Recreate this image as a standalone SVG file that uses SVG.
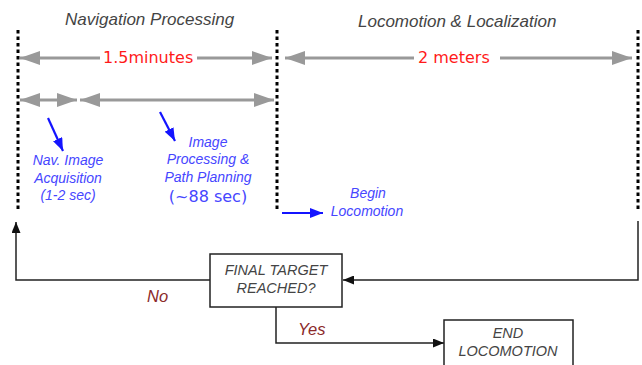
<svg xmlns="http://www.w3.org/2000/svg" width="642" height="365" viewBox="0 0 642 365">
  <style>
    .title{font-family:"Liberation Sans",Arial,sans-serif;font-style:italic;font-size:17px;fill:#444}
    .dim{font-family:"DejaVu Sans",sans-serif;font-size:16px;fill:#ff1a1a}
    .note{font-family:"Liberation Sans",Arial,sans-serif;font-style:italic;font-size:14px;fill:#4646ff;text-anchor:middle}
    .note2{font-family:"DejaVu Sans",sans-serif;font-size:16px;fill:#4646ff;text-anchor:middle}
    .box{fill:#fff;stroke:#222;stroke-width:1.5}
    .boxtxt{font-family:"Liberation Sans",Arial,sans-serif;font-style:italic;font-size:14.5px;fill:#444;text-anchor:middle}
    .ans{font-family:"Liberation Sans",Arial,sans-serif;font-style:italic;font-size:16.5px;fill:#8b2a2a}
    .dot{stroke:#000;stroke-width:3;stroke-dasharray:3.5 3;fill:none}
    .gray{stroke:#999;stroke-width:3;fill:none}
    .blue{stroke:#1414ff;stroke-width:2.2;fill:none}
    .flow{stroke:#222;stroke-width:1.5;fill:none}
  </style>
  <defs>
    <marker id="gh" viewBox="0 0 20 14" refX="20" refY="7" markerWidth="20" markerHeight="14" markerUnits="userSpaceOnUse" orient="auto-start-reverse">
      <path d="M0,0 L20,7 L0,14 z" fill="#999"/>
    </marker>
    <marker id="bh" viewBox="0 0 13 10" refX="13" refY="5" markerWidth="13" markerHeight="10" markerUnits="userSpaceOnUse" orient="auto">
      <path d="M0,0 L13,5 L0,10 z" fill="#1414ff"/>
    </marker>
    <marker id="kh" viewBox="0 0 11 9" refX="11" refY="4.5" markerWidth="11" markerHeight="9" markerUnits="userSpaceOnUse" orient="auto">
      <path d="M0,0 L11,4.5 L0,9 z" fill="#111"/>
    </marker>
  </defs>

  <!-- phase headings -->
  <g id="phase-titles">
    <text class="title" x="65" y="25">Navigation Processing</text>
    <text class="title" x="358" y="27">Locomotion &amp; Localization</text>
  </g>

  <!-- phase boundaries -->
  <g id="boundaries">
    <line class="dot" x1="18" y1="30" x2="18" y2="211"/>
    <line class="dot" x1="277" y1="30" x2="277" y2="211"/>
    <line class="dot" x1="638" y1="30" x2="638" y2="212"/>
  </g>

  <!-- duration spans -->
  <g id="spans">
    <line class="gray" x1="20" y1="58" x2="100" y2="58" marker-start="url(#gh)"/>
    <line class="gray" x1="197" y1="58" x2="272" y2="58" marker-end="url(#gh)"/>
    <line class="gray" x1="285" y1="58" x2="414" y2="58" marker-start="url(#gh)"/>
    <line class="gray" x1="500" y1="58" x2="632" y2="58" marker-end="url(#gh)"/>
    <line class="gray" x1="20" y1="100" x2="77" y2="100" marker-start="url(#gh)" marker-end="url(#gh)"/>
    <line class="gray" x1="80" y1="100" x2="274" y2="100" marker-start="url(#gh)" marker-end="url(#gh)"/>
    <text class="dim" x="103" y="63">1.5minutes</text>
    <text class="dim" x="418" y="63">2 meters</text>
  </g>

  <!-- step annotations -->
  <g id="annotations">
    <line class="blue" x1="48" y1="118" x2="63" y2="151" marker-end="url(#bh)"/>
    <line class="blue" x1="160" y1="112" x2="175" y2="141" marker-end="url(#bh)"/>
    <line class="blue" x1="282" y1="213" x2="323" y2="213" marker-end="url(#bh)"/>
    <text class="note" x="68" y="165">Nav. Image</text>
    <text class="note" x="68" y="183">Acquisition</text>
    <text class="note" x="68" y="200">(1-2 sec)</text>
    <text class="note" x="208" y="147">Image</text>
    <text class="note" x="208" y="164">Processing &amp;</text>
    <text class="note" x="208" y="182">Path Planning</text>
    <text class="note2" x="208" y="202">(~88 sec)</text>
    <text class="note" x="368" y="198">Begin</text>
    <text class="note" x="367" y="216">Locomotion</text>
  </g>

  <!-- loop connectors -->
  <g id="connectors">
    <path class="flow" d="M210,280 H16 V222" marker-end="url(#kh)"/>
    <path class="flow" d="M638,221 V280 H343" marker-end="url(#kh)"/>
    <path class="flow" d="M276,307 V343 H444" marker-end="url(#kh)"/>
    <text class="ans" x="147" y="302">No</text>
    <text class="ans" x="298" y="335">Yes</text>
  </g>

  <g id="final-target">
    <rect class="box" x="210" y="254" width="132" height="53"/>
    <text class="boxtxt" x="276" y="275">FINAL TARGET</text>
    <text class="boxtxt" x="276" y="293">REACHED?</text>
  </g>

  <g id="end-locomotion">
    <rect class="box" x="444" y="320" width="129" height="52"/>
    <text class="boxtxt" x="508" y="338">END</text>
    <text class="boxtxt" x="508" y="356">LOCOMOTION</text>
  </g>
</svg>
